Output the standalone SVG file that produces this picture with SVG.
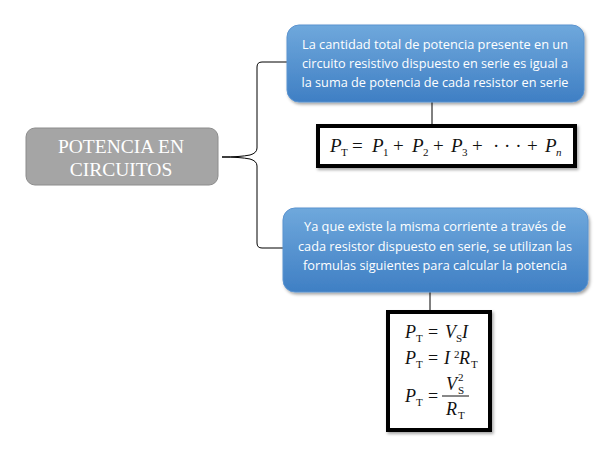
<svg xmlns="http://www.w3.org/2000/svg" width="601" height="453" viewBox="0 0 601 453">
<defs>
<linearGradient id="blue" x1="0" y1="0" x2="0" y2="1">
<stop offset="0" stop-color="#6fa8dc"/>
<stop offset="1" stop-color="#3f7fc4"/>
</linearGradient>
<filter id="sh" x="-10%" y="-10%" width="130%" height="140%">
<feDropShadow dx="1.5" dy="2" stdDeviation="1.5" flood-color="#000" flood-opacity="0.35"/>
</filter>
</defs>
<style>
.blue{fill:url(#blue);stroke:#5b93cf;stroke-width:1;filter:url(#sh)}
.bt{font-family:"Open Sans","Liberation Sans",sans-serif;font-size:13px;fill:#fff;text-anchor:middle}
.gray{fill:#a5a5a5;stroke:#8c8c8c;stroke-width:1}
.gt{font-family:"Liberation Serif",serif;font-size:19.5px;fill:#fff;text-anchor:middle}
.fbox{fill:#fff;stroke:#000;stroke-width:4;filter:url(#sh)}
.m{font-family:"Liberation Serif",serif;font-size:18px;fill:#111}
.m1{font-size:19px}
.mi{font-style:italic}
.sub{font-size:11px}
.con{fill:none;stroke:#000;stroke-width:1}
</style>
<g id="connectors">
<path class="con" d="M287,62 H262 Q257,62 257,67 V148 Q257,153 250,155 Q240,157 222,157 Q240,157 250,159 Q257,161 257,166 V243 Q257,248 262,248 H285"/>
<line class="con" x1="432" y1="102" x2="432" y2="126"/>
<line class="con" x1="430" y1="292" x2="430" y2="312"/>
</g>
<g id="root">
<rect class="gray" x="26" y="128" width="192" height="57" rx="9"/>
<text class="gt" x="121" y="153">POTENCIA EN</text>
<text class="gt" x="121" y="176">CIRCUITOS</text>
</g>
<g id="node1">
<rect class="blue" x="287" y="25" width="297" height="77" rx="12"/>
<text class="bt" x="435" y="49" textLength="266" lengthAdjust="spacingAndGlyphs">La cantidad total de potencia presente en un</text>
<text class="bt" x="435" y="68" textLength="266" lengthAdjust="spacingAndGlyphs">circuito resistivo dispuesto en serie es igual a</text>
<text class="bt" x="435" y="87" textLength="267" lengthAdjust="spacingAndGlyphs">la suma de potencia de cada resistor en serie</text>
</g>
<g id="formula1">
<rect class="fbox" x="318" y="126" width="257" height="40"/>
<text class="m m1" y="152"><tspan class="mi" x="330">P</tspan><tspan class="sub" x="341" y="156">T</tspan><tspan x="352" y="152">=</tspan><tspan class="mi" x="372">P</tspan><tspan class="sub" x="383" y="156">1</tspan><tspan x="393" y="152">+</tspan><tspan class="mi" x="412">P</tspan><tspan class="sub" x="423" y="156">2</tspan><tspan x="433" y="152">+</tspan><tspan class="mi" x="451">P</tspan><tspan class="sub" x="462" y="156">3</tspan><tspan x="472" y="152">+</tspan><tspan x="493">·  ·  ·</tspan><tspan x="527">+</tspan><tspan class="mi" x="545">P</tspan><tspan class="sub mi" x="556" y="156">n</tspan></text>
</g>
<g id="node2">
<rect class="blue" x="283" y="208" width="305" height="84" rx="12"/>
<text class="bt" x="435" y="231" textLength="262" lengthAdjust="spacingAndGlyphs">Ya que existe la misma corriente a través de</text>
<text class="bt" x="435" y="251" textLength="274" lengthAdjust="spacingAndGlyphs">cada resistor dispuesto en serie, se utilizan las</text>
<text class="bt" x="435" y="270" textLength="264" lengthAdjust="spacingAndGlyphs">formulas siguientes para calcular la potencia</text>
</g>
<g id="formula2">
<rect class="fbox" x="388" y="312" width="102" height="118"/>
<text class="m" y="338"><tspan class="mi" x="405">P</tspan><tspan class="sub" x="416" y="342">T</tspan><tspan x="428" y="338">=</tspan><tspan class="mi" x="445">V</tspan><tspan class="sub" x="456" y="342">S</tspan><tspan class="mi" x="462" y="338">I</tspan></text>
<text class="m" y="364"><tspan class="mi" x="405">P</tspan><tspan class="sub" x="416" y="368">T</tspan><tspan x="428" y="364">=</tspan><tspan class="mi" x="444">I</tspan><tspan class="sub" x="454" y="358">2</tspan><tspan class="mi" x="459" y="364">R</tspan><tspan class="sub" x="471" y="368">T</tspan></text>
<text class="m" y="402"><tspan class="mi" x="405">P</tspan><tspan class="sub" x="416" y="406">T</tspan><tspan x="428" y="402">=</tspan></text>
<text class="m" y="390"><tspan class="mi" x="446">V</tspan></text>
<text class="m sub" x="458" y="381">2</text>
<text class="m sub" x="458" y="394">S</text>
<line x1="442" y1="396" x2="469" y2="396" stroke="#111" stroke-width="1"/>
<text class="m" y="415"><tspan class="mi" x="446">R</tspan><tspan class="sub" x="458" y="419">T</tspan></text>
</g>
</svg>
